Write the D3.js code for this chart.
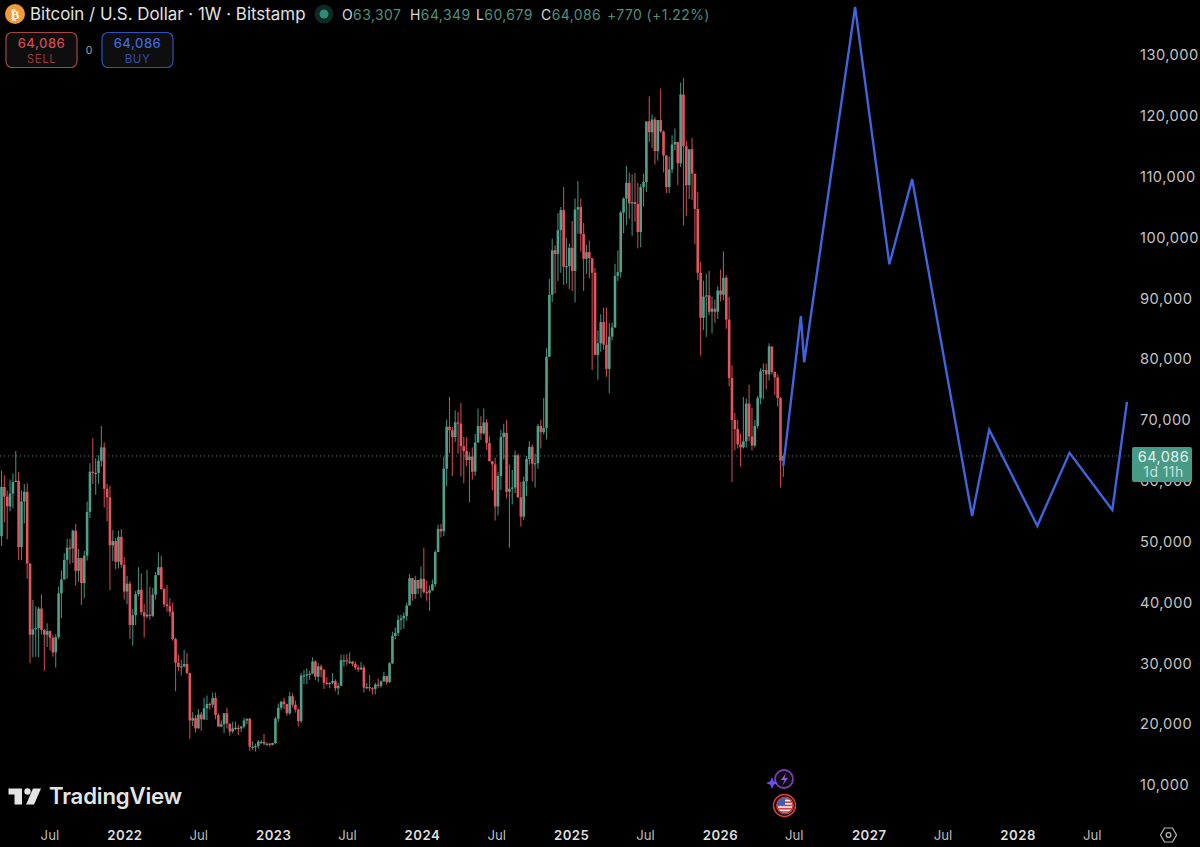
<!DOCTYPE html>
<html>
<head>
<meta charset="utf-8">
<script src="https://cdn.jsdelivr.net/npm/d3@7/dist/d3.min.js"></script>
<style>
html,body{margin:0;padding:0;background:#000;}
svg{display:block;font-family:Inter,"Noto Sans",Roboto,sans-serif;}
</style>
</head>
<body>
<svg id="chart" width="1200" height="847"></svg>
<script>
// Weekly candles, prices in thousands of USD. First week starts 2021-03-08.
const firstWeek = "2021-03-08";
const firstOpen = 50.9;
const closes = [
59.0,57.4,55.8,57.9,59.8,60.0,49.1,56.6,58.2,46.4,
34.7,35.6,35.8,39.0,35.5,34.7,35.3,34.2,31.8,34.3,
41.5,43.8,47.0,49.0,48.9,51.8,45.2,47.3,43.2,47.7,
54.9,61.5,61.3,61.3,63.3,65.5,58.7,57.3,49.4,50.1,
46.7,50.8,46.2,41.8,43.1,36.3,37.9,41.4,42.1,38.4,
37.7,38.0,37.8,41.3,44.5,45.8,42.2,39.7,39.4,38.5,
34.0,30.1,29.4,29.5,29.9,28.4,20.6,21.0,19.3,21.6,
20.8,22.6,23.3,23.2,24.3,21.5,19.6,20.0,21.8,20.1,
18.8,19.3,19.4,19.3,19.6,20.6,20.9,16.3,16.3,16.4,
17.1,17.1,16.8,16.8,16.6,16.9,20.9,22.7,23.7,23.3,
21.8,24.6,23.2,22.4,20.5,28.0,28.0,28.2,28.3,30.3,
27.8,29.5,28.9,26.8,26.7,26.8,27.1,25.9,26.3,30.5,
30.5,30.3,30.3,29.9,29.3,29.0,29.3,26.0,26.1,25.9,
25.8,26.5,26.3,27.0,27.9,26.9,30.0,34.5,35.0,37.1,
37.4,37.8,39.5,44.0,41.4,43.7,42.3,43.9,41.7,41.6,
42.0,43.0,48.3,52.1,51.7,62.0,68.9,68.3,67.2,69.6,
69.4,65.7,64.9,63.4,64.0,61.5,66.3,69.0,67.8,69.6,
66.2,63.2,62.7,55.8,60.8,67.2,67.9,58.2,58.7,58.9,
64.2,57.3,54.1,59.9,63.6,65.6,62.8,62.9,69.0,68.0,
68.7,80.4,90.6,97.9,97.3,101.2,104.5,95.2,95.3,98.3,
94.5,104.6,105.0,100.6,96.5,97.6,96.6,94.2,80.7,82.6,
86.1,82.4,78.4,83.7,85.2,93.7,94.3,104.1,106.4,109.0,
105.6,105.8,105.5,100.9,108.3,109.1,119.1,117.3,119.4,114.2,
119.3,117.4,113.5,108.3,111.2,115.3,115.7,112.2,123.5,115.0,
108.6,114.5,110.5,104.7,94.2,86.8,
90.3,90.5,87.8,88.3,87.8,91.3,90.6,93.4,86.5,76.9,
70.0,68.5,66.0,65.5,66.5,72.7,67.3,65.8,69.0,73.6,
78.0,78.2,77.5,82.1,77.9,77.0,73.6,63.3,64.086];
const highs = [
61.7,60.9,58.4,60.2,61.2,64.9,61.5,58.4,59.5,59.6,
46.5,40.4,39.4,39.3,41.3,35.7,36.6,35.4,34.6,34.8,
42.6,45.3,48.1,50.5,50.5,52.0,52.9,48.8,47.3,48.5,
56.6,62.9,67.0,63.7,64.2,69.0,66.3,59.5,59.2,51.9,
50.6,51.8,52.1,47.5,44.4,43.5,38.9,41.9,45.8,44.8,
39.8,45.4,42.6,42.4,45.0,48.2,47.7,42.4,42.9,40.7,
40.0,34.2,31.4,30.6,32.2,31.7,28.5,22.0,21.5,22.5,
22.0,24.3,24.7,23.6,25.2,25.2,21.8,20.6,21.8,22.7,
19.9,20.4,20.4,19.9,19.7,21.0,20.9,21.0,17.2,16.8,
17.4,17.4,18.4,17.0,16.9,17.0,21.2,23.4,23.8,24.3,
23.4,25.3,25.1,23.9,22.6,28.4,28.9,29.2,28.8,31.0,
30.5,30.0,29.8,29.1,27.7,26.9,28.4,27.4,26.8,31.4,
31.4,31.5,31.8,30.4,30.3,29.7,30.2,29.7,26.8,28.1,
26.1,26.8,27.5,27.2,28.6,28.0,30.2,35.2,35.9,37.9,
38.0,38.4,40.0,44.7,44.0,44.4,43.7,45.9,49.0,43.6,
42.8,43.8,48.6,52.8,52.9,64.0,70.1,73.8,68.9,71.6,
71.3,72.8,67.2,67.2,64.7,65.5,67.7,71.9,70.6,71.9,
70.2,67.3,63.3,63.8,61.4,68.4,69.4,70.0,62.7,61.8,
65.0,64.5,59.8,60.7,64.1,66.5,66.0,64.5,69.4,70.0,
73.6,81.8,93.2,99.8,98.7,104.0,105.0,108.3,99.9,99.0,
102.7,106.4,109.3,106.4,102.4,98.8,99.5,96.5,95.0,84.7,
87.4,88.5,88.5,85.9,86.0,95.7,97.9,104.4,106.6,111.8,
110.7,110.4,110.6,109.0,108.8,110.5,119.0,123.2,120.2,119.8,
119.3,124.5,117.6,113.5,113.3,116.8,117.9,115.7,125.5,126.2,
115.9,114.5,116.4,107.0,107.5,96.0,
92.9,94.0,94.5,90.3,89.8,92.0,94.7,97.7,93.8,90.2,
79.0,71.2,70.0,67.8,73.8,73.5,75.8,72.0,70.0,74.0,
78.5,79.3,79.3,82.6,82.0,78.0,77.5,73.8,64.349];
const lows = [
49.3,53.2,50.4,55.0,55.5,59.8,47.0,47.0,53.0,43.9,
30.0,31.0,31.1,31.0,34.8,28.8,32.7,32.1,31.1,29.3,
34.0,37.4,43.8,43.9,46.3,46.5,42.8,43.4,39.6,40.7,
46.9,53.9,59.5,57.7,59.5,62.3,55.6,53.3,42.0,46.8,
45.5,45.6,45.7,40.5,39.7,34.0,32.9,36.3,41.0,38.0,
34.3,37.4,37.2,37.6,40.5,44.5,42.1,39.2,38.5,37.7,
33.7,25.4,28.7,28.0,29.3,28.2,17.6,19.7,18.6,19.3,
18.9,20.7,20.7,22.4,22.7,20.8,19.6,19.5,18.5,19.3,
18.1,18.5,19.0,18.2,18.7,19.3,20.0,15.6,15.8,15.5,
16.0,16.7,16.5,16.4,16.3,16.5,16.7,20.4,22.3,22.5,
21.4,21.5,22.8,21.9,19.6,20.2,26.6,26.6,27.3,28.2,
27.2,26.9,27.7,25.8,26.4,25.9,26.5,25.4,24.8,26.3,
29.5,29.7,29.9,29.5,28.9,28.6,28.9,25.2,25.8,25.4,
24.9,24.9,26.0,26.0,27.2,26.5,26.8,29.9,33.9,34.5,
35.5,35.7,37.0,39.9,40.3,40.6,41.4,40.8,41.5,40.3,
38.6,41.9,42.6,48.3,50.7,50.9,59.1,64.6,60.8,66.4,
64.5,60.7,59.6,62.4,56.5,60.2,60.8,66.3,66.7,67.6,
65.1,63.4,58.4,53.5,54.3,58.5,63.5,57.1,49.0,56.1,
58.0,57.2,52.5,53.6,57.5,62.7,59.9,58.9,62.0,65.3,
67.6,66.8,80.3,89.4,90.8,92.8,94.2,92.2,92.4,91.5,
91.2,89.3,100.6,97.7,91.2,94.0,93.3,78.2,81.5,76.6,
81.2,81.6,77.1,74.4,83.1,85.2,92.8,93.4,100.7,102.0,
103.1,100.3,102.6,98.2,98.4,105.1,107.5,115.7,114.7,112.0,
112.6,117.2,110.7,107.3,107.3,110.6,114.4,108.6,111.6,102.0,
103.5,106.3,106.2,98.9,93.0,80.6,
84.8,83.7,87.2,84.2,86.0,86.6,89.5,89.7,85.0,75.5,
59.8,65.0,65.3,62.3,65.3,65.5,66.5,65.0,65.5,68.6,
72.6,73.4,75.0,76.5,77.5,74.1,72.2,58.9,60.679];

// Hand-drawn forecast line
const forecastDates = ["2026-06-08","2026-07-21","2026-07-29","2026-12-01","2027-02-23","2027-04-20","2027-09-14","2027-10-26","2028-02-21","2028-05-10","2028-08-23","2028-09-28"];
const forecastPrices = [62.5,87.1,79.5,137.9,95.6,109.6,54.2,68.4,52.6,64.6,55.2,73.0];

const priceTicks = [10,20,30,40,50,60,70,80,90,100,110,120,130];
const timeTickDates = ["2021-07-01","2022-01-01","2022-07-01","2023-01-01","2023-07-01","2024-01-01","2024-07-01","2025-01-01","2025-07-01","2026-01-01","2026-07-01","2027-01-01","2027-07-01","2028-01-01","2028-07-01"];
const timeTickLabels = ["Jul","2022","Jul","2023","Jul","2024","Jul","2025","Jul","2026","Jul","2027","Jul","2028","Jul"];

const lastPrice = 64.086;
const symbolTitle = "Bitcoin / U.S. Dollar · 1W · Bitstamp";
const ohlcParts = [["O","63,307",342],["H","64,349",410],["L","60,679",476],["C","64,086",541]];
const changeText = "+770 (+1.22%)";

const UP="#4fa08c", DOWN="#e5555d", BLUE="#3f64de";
const parse=d3.utcParse("%Y-%m-%d");
const svg=d3.select("#chart");
svg.append("rect").attr("width",1200).attr("height",847).attr("fill","#000");

const x=d3.scaleUtc().domain([parse(firstWeek),parse("2028-09-28")]).range([1.5,1127]);
const y=d3.scaleLinear().domain([10,130]).range([785,55]);

const bars=closes.map((c,i)=>({
  date:new Date(parse(firstWeek).getTime()+i*7*864e5),
  open:i?closes[i-1]:firstOpen, close:c, high:highs[i], low:lows[i]}));

// axes
const yAxis=svg.append("g").attr("transform","translate(1140,0)")
  .call(d3.axisRight(y).tickValues(priceTicks).tickSize(0).tickPadding(0).tickFormat(d=>d3.format(",")(d*1000)));
yAxis.select(".domain").remove();
yAxis.selectAll("text").attr("font-size",14.6).attr("font-family","Inter").attr("fill","#c4c4c4").attr("letter-spacing",".5");

const xAxis=svg.append("g").attr("transform","translate(0,830.5)")
  .call(d3.axisBottom(x).tickValues(timeTickDates.map(parse)).tickSize(0).tickPadding(0)
    .tickFormat((d,i)=>timeTickLabels[i]));
xAxis.select(".domain").remove();
xAxis.selectAll("text").attr("font-size",13.2).attr("font-family","Inter")
  .attr("dx",1)
  .attr("fill",(d,i)=>timeTickLabels[i]==="Jul"?"#bdbdbd":"#dedede")
  .attr("font-weight",(d,i)=>timeTickLabels[i]==="Jul"?400:600)
  .attr("letter-spacing",(d,i)=>timeTickLabels[i]==="Jul"?0:.5);

// last price dotted line
svg.append("line").attr("x1",0).attr("x2",1131).attr("y1",y(lastPrice)).attr("y2",y(lastPrice))
  .attr("stroke","#6f8a82").attr("stroke-width",1).attr("stroke-dasharray","1.2 2.8").attr("opacity",.85);

// candles
const g=svg.append("g");
const bar=g.selectAll("g").data(bars).join("g").attr("transform",d=>`translate(${x(d.date)},0)`);
const col=d=>d.close>=d.open?UP:DOWN;
bar.append("line").attr("y1",d=>y(d.high)).attr("y2",d=>y(d.low)).attr("stroke",col).attr("stroke-width",1.1).attr("opacity",.85);
bar.append("rect").attr("x",-1.3).attr("width",2.6)
  .attr("y",d=>y(Math.max(d.open,d.close)))
  .attr("height",d=>Math.max(1.2,Math.abs(y(d.open)-y(d.close))))
  .attr("fill",col);

// forecast line
svg.append("path")
  .datum(forecastDates.map((d,i)=>[parse(d),forecastPrices[i]]))
  .attr("fill","none").attr("stroke",BLUE).attr("stroke-width",2.4).attr("stroke-linejoin","miter")
  .attr("d",d3.line().x(d=>x(d[0])).y(d=>y(d[1])));

// last price label
const lbl=svg.append("g");
lbl.append("rect").attr("x",1132).attr("y",447).attr("width",60).attr("height",35).attr("rx",2).attr("fill","#479a85");
lbl.append("text").attr("x",1163.5).attr("y",461.5).attr("text-anchor","middle").attr("font-size",14.4).attr("letter-spacing",".5").attr("fill","#e4f2ee").text(d3.format(",")(lastPrice*1000));
lbl.append("text").attr("x",1163.5).attr("y",476.5).attr("text-anchor","middle").attr("font-size",14).attr("letter-spacing",".4").attr("fill","#c3e2da").text("1d 11h");

// header
const hdr=svg.append("g");
hdr.append("circle").attr("cx",15).attr("cy",14).attr("r",10).attr("fill","#ef9a3b");
hdr.append("text").attr("x",15).attr("y",19).attr("text-anchor","middle").attr("font-size",13).attr("font-weight",700).attr("fill","#fff3e0").attr("font-family","'DejaVu Sans'").text("₿");
hdr.append("text").attr("x",30).attr("y",20).attr("font-size",16.9).attr("fill","#e2e2e2").text(symbolTitle);
hdr.append("circle").attr("cx",324).attr("cy",14).attr("r",9.5).attr("fill","#0f2a25");
hdr.append("circle").attr("cx",324).attr("cy",14).attr("r",4.5).attr("fill","#2f8a74");
ohlcParts.forEach(p=>{
  const t=hdr.append("text").attr("x",p[2]).attr("y",20).attr("font-size",14).attr("letter-spacing",".4");
  t.append("tspan").attr("fill","#d8d8d8").text(p[0]);
  t.append("tspan").attr("fill","#4b8f7e").text(p[1]);
});
hdr.append("text").attr("x",607).attr("y",20).attr("font-size",14).attr("letter-spacing",".4").attr("fill","#4b8f7e").text(changeText);

// sell / buy buttons
[[6,"#a8464b","#cf4b52","#94393e","SELL"],[102,"#2c52bd","#3f66d8","#2f4fa8","BUY"]].forEach(b=>{
  const bg=svg.append("g");
  bg.append("rect").attr("x",b[0]).attr("y",32.5).attr("width",71).attr("height",35).attr("rx",6).attr("fill","#0e0e0e").attr("stroke",b[1]).attr("stroke-width",1.2);
  bg.append("text").attr("x",b[0]+35.5).attr("y",47.5).attr("text-anchor","middle").attr("font-size",13).attr("font-weight",500).attr("letter-spacing",".5").attr("fill",b[2]).text("64,086");
  bg.append("text").attr("x",b[0]+35.5).attr("y",63).attr("text-anchor","middle").attr("font-size",11.5).attr("letter-spacing",".5").attr("fill",b[3]).text(b[4]);
});
svg.append("text").attr("x",89).attr("y",54).attr("text-anchor","middle").attr("font-size",10.5).attr("fill","#a0a0a0").text("0");

// TradingView logo
const logo=svg.append("g").attr("fill","#e4e4e4");
logo.append("path").attr("d","M8.5 788.5H22V804.5H14.5V794.5H8.5Z");
logo.append("circle").attr("cx",27.5).attr("cy",791.5).attr("r",3.2);
logo.append("path").attr("d","M33 788.5H41L34 804.5H26Z");
logo.append("text").attr("x",49).attr("y",804).attr("font-size",22.2).attr("font-weight",600).attr("letter-spacing","-.2").text("TradingView");

// event icons
const ev=svg.append("g");
ev.append("circle").attr("cx",784).attr("cy",779).attr("r",9).attr("fill","#0d0714").attr("stroke","#7a3fb2").attr("stroke-width",1.8);
ev.append("path").attr("d","M786 773L781 780H784.5L782.5 785.5L788 778H784.5Z").attr("fill","#9a5ad8");
ev.append("path").attr("d","M772 777L773.7 781.3L778 783L773.7 784.7L772 789L770.3 784.7L766 783L770.3 781.3Z").attr("fill","#6a52ee");
const defs=svg.append("defs");
defs.append("clipPath").attr("id","flag").append("circle").attr("cx",785).attr("cy",805.5).attr("r",7.6);
const flag=ev.append("g").attr("clip-path","url(#flag)");
flag.append("rect").attr("x",776).attr("y",797).attr("width",18).attr("height",18).attr("fill","#eee");
d3.range(5).forEach(i=>flag.append("rect").attr("x",776).attr("y",798+i*3.3).attr("width",18).attr("height",1.7).attr("fill","#d8434a"));
flag.append("rect").attr("x",776).attr("y",797).attr("width",9).attr("height",8).attr("fill","#3a5fb8");
ev.append("circle").attr("cx",785).attr("cy",805.5).attr("r",8.3).attr("fill","none").attr("stroke","#d8403f").attr("stroke-width",1.3);
ev.append("circle").attr("cx",784.5).attr("cy",805.5).attr("r",11).attr("fill","none").attr("stroke","#d8403f").attr("stroke-width",1.4);

// settings icon
const gear=svg.append("g").attr("fill","none").attr("stroke","#b8b8b8").attr("stroke-width",1.2);
gear.append("path").attr("d","M1160.5 835L1164.5 828H1172.5L1176.5 835L1172.5 842H1164.5Z");
gear.append("circle").attr("cx",1168.5).attr("cy",835).attr("r",2.4);
</script>
</body>
</html>
